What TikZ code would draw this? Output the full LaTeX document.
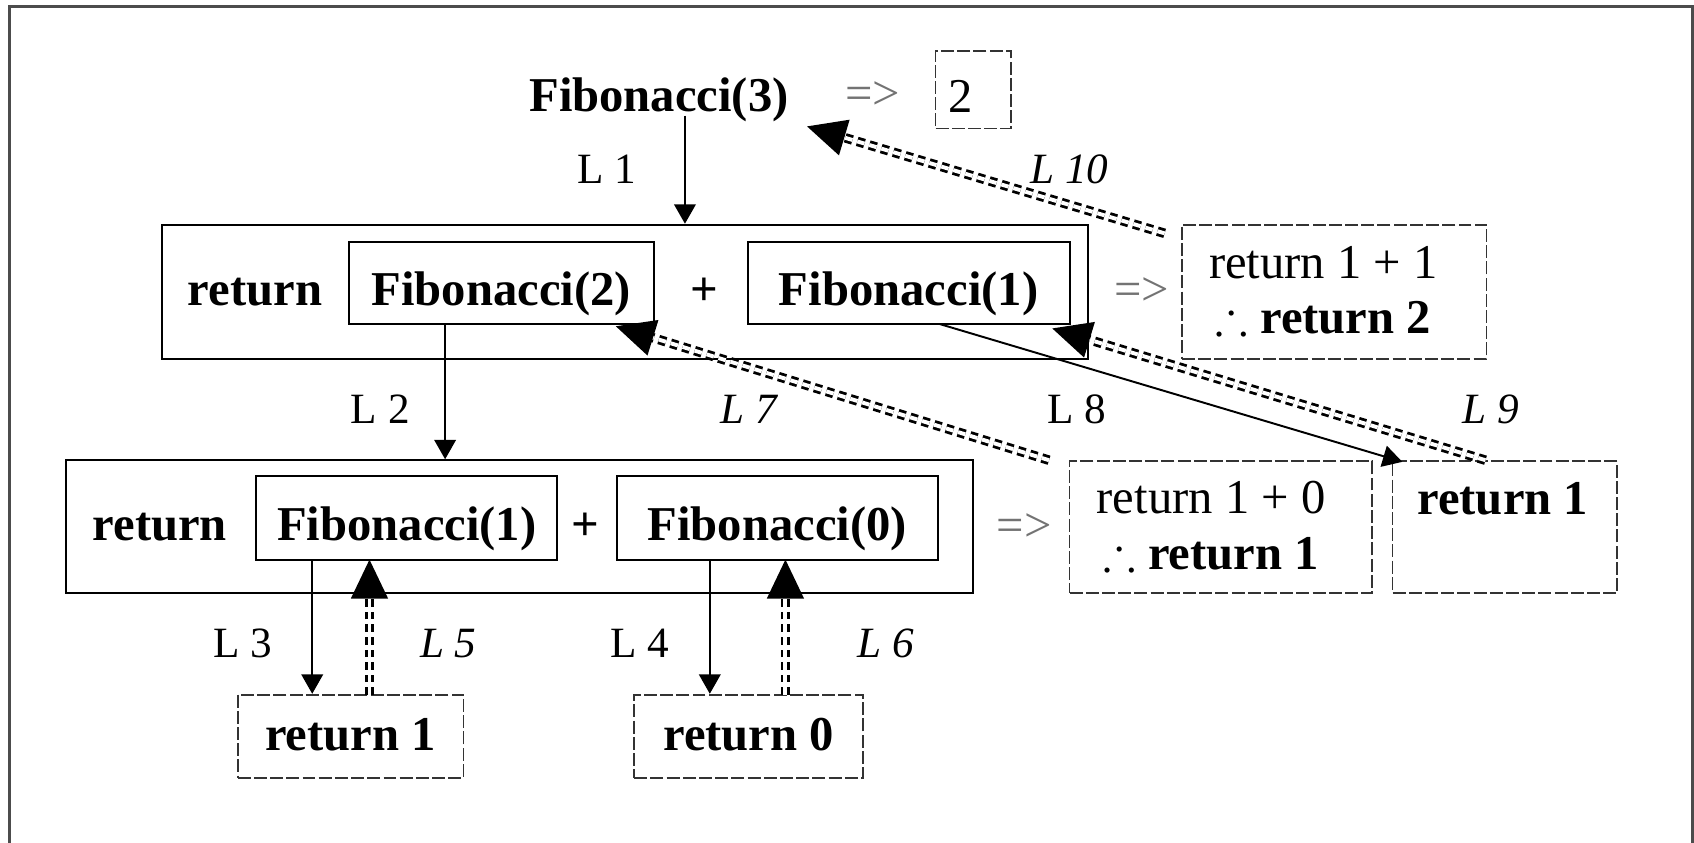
\documentclass[tikz,border=0pt]{standalone}
\usepackage{fontspec}
\usepackage{amssymb}
\setmainfont{Liberation Serif}
\usetikzlibrary{arrows.meta,calc,fit}
\newcommand{\retarrow}[2]{%
  \draw[dbl, shorten >=15pt] (#1) -- (#2);
  \draw[bigarr] ($(#2)!2pt!(#1)$) -- (#2);}
\begin{document}
\begin{tikzpicture}[x=0.5pt,y=-0.5pt,
  txt/.style={anchor=base, inner sep=0, font=\fontsize{22.5}{27}\selectfont},
  btxt/.style={anchor=base, inner sep=0, font=\fontsize{22.5}{27}\selectfont\bfseries},
  impl/.style={txt, text=black!55},
  lbl/.style={anchor=base, inner sep=0, font=\fontsize{20}{24}\selectfont},
  ilbl/.style={anchor=base, inner sep=0, font=\fontsize{20}{24}\selectfont\itshape},
  sbox/.style={draw, line width=0.9pt, inner sep=0},
  dbox/.style={draw=black!80, line width=0.8pt, dash pattern=on 6pt off 1.5pt, inner sep=0},
  arr/.style={line width=0.9pt, -{Triangle[length=9pt,width=10pt]}},
  dbl/.style={draw, line width=1.3pt, double=white, double distance=1.8pt, dash pattern=on 3.5pt off 2.3pt},
  bigarr/.style={line width=0.9pt, -{Triangle[length=18pt,width=17pt]}}
]
\useasboundingbox (0,0) rectangle (1568,779.4);
\clip (0,0) rectangle (1568,779.4);
\draw[line width=1.5pt, black!70] (8.6,820) -- (8.6,6.2) -- (1566.7,6.2) -- (1566.7,820);

% top
\node[btxt] (fib3) at (610,103) {Fibonacci(3)};
\node[impl] (eq0) at (808,101) {=>};
\node[dbox, fit={(866,47) (936,119)}] (res) {};
\node[txt] (two) at (889,104) {2};

% level 1
\node[sbox, fit={(150,208) (1007,332)}] (box1) {};
\node[sbox, fit={(323,224) (605,300)}] (f2) {};
\node[sbox, fit={(692,224) (990,300)}] (f1a) {};
\node[btxt] (ret1) at (236,283) {return};
\node[btxt] at (f2.center |- ret1.base) [anchor=base] (f2t) {Fibonacci(2)};
\node[btxt] (plus1) at (652,283) {+};
\node[btxt] at (f1a.center |- ret1.base) [anchor=base] (f1at) {Fibonacci(1)};
\node[impl] (eq1) at (1057,283) {=>};
\node[dbox, fit={(1094,208) (1376,332)}] (r2) {};
\node[txt] (r2a) at (1225,258) {return 1 + 1};
\node[txt] (r2b) at (1225,309) {$\therefore$ \textbf{return 2}};

% level 2
\node[sbox, fit={(61,426) (901,549)}] (box2) {};
\node[sbox, fit={(237,441) (516,518)}] (f1b) {};
\node[sbox, fit={(571,441) (868,518)}] (f0) {};
\node[btxt] (ret2) at (148,500) {return};
\node[btxt] at (f1b.center |- ret2.base) [anchor=base] (f1bt) {Fibonacci(1)};
\node[btxt] (plus2) at (542,500) {+};
\node[btxt] at (f0.center |- ret2.base) [anchor=base] (f0t) {Fibonacci(0)};
\node[impl] (eq2) at (948,501) {=>};
\node[dbox, fit={(990,427) (1270,549)}] (r1s) {};
\node[txt] (r1sa) at (1121,475) {return 1 + 0};
\node[txt] (r1sb) at (1121,527) {$\therefore$ \textbf{return 1}};
\node[dbox, fit={(1289,427) (1497,549)}] (r1) {};
\node[btxt] (r1t) at (1391,476) {return 1};

% level 3
\node[dbox, fit={(220,643) (429,720)}] (rb1) {};
\node[btxt] (rb1t) at (rb1.center |- 0,695) {return 1};
\node[dbox, fit={(587,643) (799,720)}] (rb0) {};
\node[btxt] (rb0t) at (rb0.center |- 0,695) {return 0};

% call arrows
\coordinate (l1s) at (634,107);
\draw[arr] (l1s) -- (l1s |- box1.north);
\coordinate (l2s) at (412,300);
\draw[arr] (l2s) -- (l2s |- box2.north);
\coordinate (l3s) at (289,518);
\draw[arr] (l3s) -- (l3s |- rb1.north);
\coordinate (l4s) at (657,518);
\draw[arr] (l4s) -- (l4s |- rb0.north);
\coordinate (l8s) at (870,300);
\coordinate (l8e) at (1298,427.5);
\draw[arr] (l8s) -- (l8e);

% return arrows
\coordinate (l5t) at (342,643);
\coordinate (l5h) at (342,518);
\retarrow{l5t}{l5h}
\coordinate (l6t) at (727,643);
\coordinate (l6h) at (727,518);
\retarrow{l6t}{l6h}
\coordinate (l7t) at (971,426);
\coordinate (l7h) at (570,302);
\retarrow{l7t}{l7h}
\coordinate (l9t) at (1375,426);
\coordinate (l9h) at (974,304);
\retarrow{l9t}{l9h}
\coordinate (l10t) at (1078,216);
\coordinate (l10h) at (747,117);
\retarrow{l10t}{l10h}

% labels
\node[lbl] (L1) at (562,170) {L 1};
\node[ilbl] (L10) at (990,170) {L 10};
\node[lbl] (L2) at (352,392) {L 2};
\node[ilbl] (L7) at (693,392) {L 7};
\node[lbl] (L8) at (997,392) {L 8};
\node[ilbl] (L9) at (1380,392) {L 9};
\node[lbl] (L3) at (225,609) {L 3};
\node[ilbl] (L5) at (415,609) {L 5};
\node[lbl] (L4) at (592,609) {L 4};
\node[ilbl] (L6) at (820,609) {L 6};
\end{tikzpicture}
\end{document}
